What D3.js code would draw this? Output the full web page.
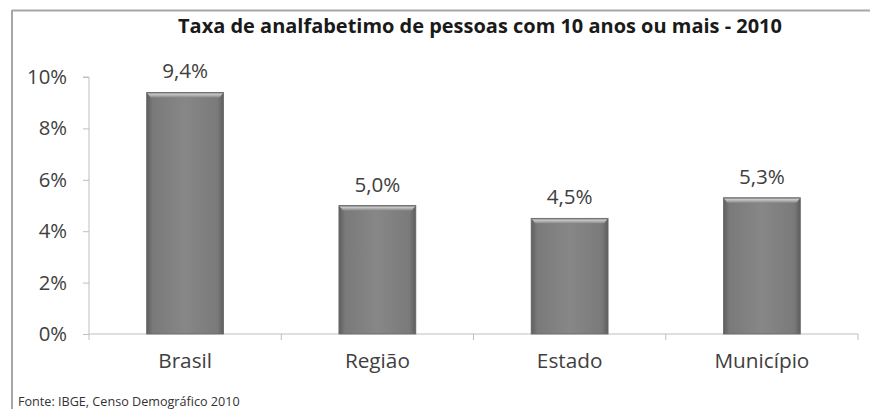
<!DOCTYPE html>
<html><head><meta charset="utf-8">
<script src="https://cdn.jsdelivr.net/npm/d3@7"></script>
<style>body{margin:0;background:#fff;}svg{display:block;}</style>
</head><body>
<svg id="c" width="870" height="409"></svg>
<script>
const categories = ["Brasil", "Região", "Estado", "Município"];
const values = [9.4, 5.0, 4.5, 5.3];
const valueLabels = ["9,4%", "5,0%", "4,5%", "5,3%"];
const yTicks = [0, 2, 4, 6, 8, 10];
const title = "Taxa de analfabetimo de pessoas com 10 anos ou mais - 2010";
const source = "Fonte: IBGE, Censo Demográfico 2010";

const svg = d3.select("#c");
const font = "'Open Sans', sans-serif";
const M = {left: 89, right: 858, top: 77, bottom: 334};

function fitSize(text, target, base, weight) {
  const tmp = svg.append("text").attr("font-family", font).attr("font-size", base)
    .attr("font-weight", weight || "normal").text(text);
  const w = tmp.node().getComputedTextLength();
  tmp.remove();
  return base * target / w;
}
const tickSize = fitSize("10%", 40, 16);
const catSize = fitSize("Município", 95, 16);
const valSize = fitSize("5,3%", 46, 16);

// frame
svg.append("line").attr("x1", 12).attr("x2", 870).attr("y1", 10.5).attr("y2", 10.5)
  .attr("stroke", "#a6a6a6").attr("stroke-width", 2);
svg.append("line").attr("x1", 12).attr("x2", 12).attr("y1", 10).attr("y2", 409)
  .attr("stroke", "#a6a6a6").attr("stroke-width", 2);

const defs = svg.append("defs");
const g1 = defs.append("linearGradient").attr("id", "barg").attr("x1", 0).attr("x2", 1).attr("y1", 0).attr("y2", 0);
[[0, "#5e5e5e"], [0.08, "#7a7a7a"], [0.5, "#878787"], [0.92, "#7a7a7a"], [1, "#5e5e5e"]]
  .forEach(([o, c]) => g1.append("stop").attr("offset", o).attr("stop-color", c));
const g2 = defs.append("linearGradient").attr("id", "topg").attr("x1", 0).attr("x2", 0).attr("y1", 0).attr("y2", 1);
[[0, "#6e6e6e"], [0.35, "#c8c8c8"], [1, "#8a8a8a"]]
  .forEach(([o, c]) => g2.append("stop").attr("offset", o).attr("stop-color", c));

const x = d3.scaleBand().domain(categories).range([M.left, M.right]).paddingInner(0.6).paddingOuter(0.3);
const y = d3.scaleLinear().domain([0, 10]).range([M.bottom, M.top]);

// y axis
const ya = svg.append("g").attr("transform", `translate(${M.left},0)`)
  .call(d3.axisLeft(y).tickValues(yTicks).tickSize(6).tickPadding(16).tickFormat(d => d + "%"));
ya.select(".domain").attr("stroke", "#bfbfbf").attr("d", `M-6,${M.top}H0V${M.bottom}`);
ya.selectAll(".tick line").attr("stroke", "#bfbfbf");
ya.selectAll(".tick text").attr("font-family", font).attr("font-size", tickSize).attr("fill", "#404040");

// x axis
const xa = svg.append("g").attr("transform", `translate(0,${M.bottom})`)
  .call(d3.axisBottom(x).tickSize(0).tickPadding(19));
xa.select(".domain").attr("stroke", "#bfbfbf").attr("d", `M${M.left},0H${M.right}`);
xa.selectAll(".tick text").attr("font-family", font).attr("font-size", catSize).attr("fill", "#404040");
const bounds = d3.range(categories.length + 1).map(i => M.left + i * (M.right - M.left) / categories.length);
xa.selectAll(".sep").data(bounds).join("line").attr("class", "sep")
  .attr("x1", d => d).attr("x2", d => d).attr("y1", 0).attr("y2", 6).attr("stroke", "#bfbfbf");

// bars
const bars = svg.append("g").selectAll("g").data(categories).join("g");
bars.append("rect")
  .attr("x", d => x(d)).attr("width", x.bandwidth())
  .attr("y", (d, i) => y(values[i])).attr("height", (d, i) => y(0) - y(values[i]))
  .attr("fill", "url(#barg)").attr("stroke", "#666").attr("stroke-width", 0.8);
bars.append("path")
  .attr("d", (d, i) => {
    const x0 = x(d), w = x.bandwidth(), t = y(values[i]);
    return `M${x0},${t}H${x0 + w}L${x0 + w - 4},${t + 5}H${x0 + 4}Z`;
  })
  .attr("fill", "url(#topg)");

// value labels
svg.append("g").selectAll("text").data(categories).join("text")
  .attr("x", d => x(d) + x.bandwidth() / 2)
  .attr("y", (d, i) => y(values[i]) - 14)
  .attr("text-anchor", "middle").attr("font-family", font).attr("font-size", valSize).attr("fill", "#404040")
  .text((d, i) => valueLabels[i]);

// title
svg.append("text").attr("x", 480).attr("y", 33).attr("text-anchor", "middle")
  .attr("font-family", font).attr("font-weight", "bold").attr("fill", "#1a1a1a")
  .attr("font-size", fitSize(title, 604, 18, "bold"))
  .text(title);

// source
svg.append("text").attr("x", 18).attr("y", 406).attr("font-family", font)
  .attr("font-size", fitSize(source, 222, 10)).attr("fill", "#333").text(source);
</script>
</body></html>
